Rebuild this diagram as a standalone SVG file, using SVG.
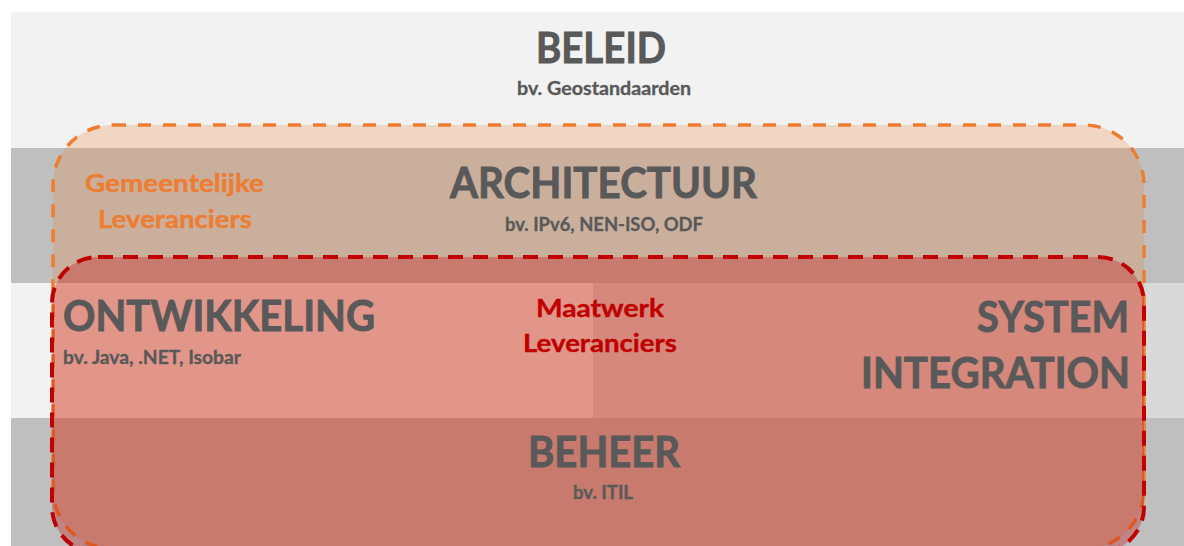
<svg xmlns="http://www.w3.org/2000/svg" width="1184" height="546" viewBox="0 0 1184 546">
<style>
text{font-family:Lato,"Open Sans","Liberation Sans",sans-serif;font-weight:700}
.h{fill:#595959;font-size:42px;stroke:#595959;stroke-width:0.9px}
.s{fill:#595959;font-size:18px;stroke:#595959;stroke-width:0.3px}
.o{fill:#ED7D31;font-size:25px;stroke:#ED7D31;stroke-width:0.4px}
.r{fill:#C00000;font-size:25px;stroke:#C00000;stroke-width:0.4px}
.m{text-anchor:middle}
</style>
<rect width="1184" height="546" fill="#ffffff"/>
<g id="band-beleid"><rect x="11" y="12" width="1173" height="136" fill="#f2f2f2"/></g>
<g id="band-architectuur"><rect x="11" y="148" width="1173" height="135" fill="#bfbfbf"/></g>
<g id="band-ontwikkeling"><rect x="11" y="283" width="582" height="135" fill="#f2f2f2"/><rect x="593" y="283" width="591" height="135" fill="#d9d9d9"/></g>
<g id="band-beheer"><rect x="11" y="418" width="1173" height="128" fill="#bfbfbf"/></g>
<g id="gemeentelijke"><rect x="53" y="125" width="1091" height="424" rx="60" fill="#ED7D31" fill-opacity="0.24" stroke="#ED7D31" stroke-width="3.5" stroke-dasharray="13 12"/></g>
<g id="maatwerk"><rect x="52" y="257" width="1092" height="296" rx="46" fill="#C00000" fill-opacity="0.3" stroke="#C00000" stroke-width="4" stroke-dasharray="15 10"/></g>
<g id="label-beleid">
<text class="h m" x="601" y="63" textLength="130" lengthAdjust="spacingAndGlyphs">BELEID</text>
<text class="s m" x="604" y="95" textLength="174" lengthAdjust="spacingAndGlyphs">bv. Geostandaarden</text>
</g>
<g id="label-architectuur">
<text class="h m" x="603.5" y="198" textLength="307" lengthAdjust="spacingAndGlyphs">ARCHITECTUUR</text>
<text class="s m" x="604" y="231" textLength="198" lengthAdjust="spacingAndGlyphs">bv. IPv6, NEN-ISO, ODF</text>
</g>
<g id="label-gemeentelijke">
<text class="o m" x="174.5" y="192" textLength="179" lengthAdjust="spacingAndGlyphs">Gemeentelijke</text>
<text class="o m" x="175" y="228" textLength="154" lengthAdjust="spacingAndGlyphs">Leveranciers</text>
</g>
<g id="label-ontwikkeling">
<text class="h" x="63" y="331" textLength="312" lengthAdjust="spacingAndGlyphs">ONTWIKKELING</text>
<text class="s" x="63" y="364" textLength="178" lengthAdjust="spacingAndGlyphs">bv. Java, .NET, Isobar</text>
</g>
<g id="label-maatwerk">
<text class="r m" x="600" y="317" textLength="128" lengthAdjust="spacingAndGlyphs">Maatwerk</text>
<text class="r m" x="600" y="352" textLength="154" lengthAdjust="spacingAndGlyphs">Leveranciers</text>
</g>
<g id="label-system-integration">
<text class="h" x="977" y="332" textLength="152" lengthAdjust="spacingAndGlyphs">SYSTEM</text>
<text class="h" x="861" y="388" textLength="269" lengthAdjust="spacingAndGlyphs">INTEGRATION</text>
</g>
<g id="label-beheer">
<text class="h m" x="604" y="467" textLength="152" lengthAdjust="spacingAndGlyphs">BEHEER</text>
<text class="s m" x="603" y="499" textLength="60" lengthAdjust="spacingAndGlyphs">bv. ITIL</text>
</g>
</svg>
